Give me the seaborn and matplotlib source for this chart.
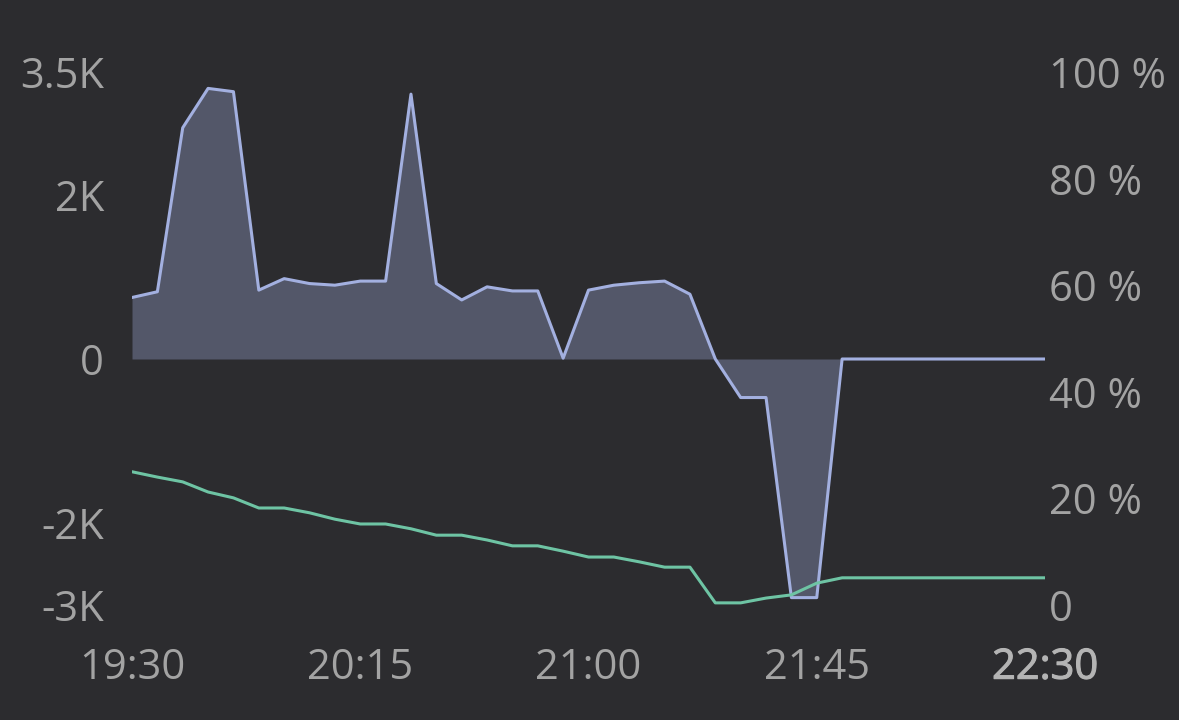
import pandas as pd
import matplotlib
matplotlib.use("Agg")
import matplotlib.pyplot as plt
import matplotlib.dates as mdates
import matplotlib.patheffects as pe
import seaborn as sns

# data, 5 minute steps from 19:30 to 22:30
times = pd.date_range("2024-01-01 19:30", "2024-01-01 22:30", freq="5min")

balance = [750, 820, 2820, 3300, 3260, 840, 980, 920, 900, 950,
           950, 3230, 920, 720, 880, 830, 830, 10, 840, 900,
           930, 950, 790, 0, -470, -470, -2910, -2910, 0, 0,
           0, 0, 0, 0, 0, 0, 0]

percent = [25.0, 24.0, 23.1, 21.2, 20.1, 18.2, 18.2, 17.3, 16.1, 15.2,
           15.2, 14.3, 13.1, 13.1, 12.2, 11.1, 11.1, 10.1, 9.0, 9.0,
           8.1, 7.1, 7.1, 0.4, 0.4, 1.3, 1.9, 4.1, 5.1, 5.1,
           5.1, 5.1, 5.1, 5.1, 5.1, 5.1, 5.1]

left_ticks = [3500, 2000, 0, -2000, -3000]
left_labels = ["3.5K", "2K", "0", "-2K", "-3K"]
right_ticks = [0, 20, 40, 60, 80, 100]
right_labels = ["0", "20 %", "40 %", "60 %", "80 %", "100 %"]

df = pd.DataFrame({"time": times, "balance": balance, "percent": percent})

bg = "#2c2c2f"
txt = "#a3a3a3"
blue = "#a3b0e0"
green = "#6ec4a4"

sns.set_theme(style="dark", rc={"axes.facecolor": bg, "figure.facecolor": bg})
plt.rcParams["font.family"] = ["Open Sans", "DejaVu Sans"]

fig = plt.figure(figsize=(11.79, 7.2), dpi=100)
ax = fig.add_axes([132 / 1179, 1 - 605 / 720, (1045 - 132) / 1179, (605 - 72) / 720])
ax2 = ax.twinx()

ax.fill_between(df["time"], df["balance"], 0, color=blue, alpha=0.33, linewidth=0)
sns.lineplot(data=df, x="time", y="balance", ax=ax, color=blue, linewidth=2.2)
sns.lineplot(data=df, x="time", y="percent", ax=ax2, color=green, linewidth=2.2)

ax.set_ylim(-3000, 3500)
ax2.set_ylim(0, 100)
ax.set_xlim(times[0], times[-1])

ax.set_yticks(left_ticks)
ax.set_yticklabels(left_labels)
ax2.set_yticks(right_ticks)
ax2.set_yticklabels(right_labels)

xt = [times[0] + pd.Timedelta(minutes=45 * k) for k in range(5)]
ax.set_xticks(xt)
ax.xaxis.set_major_formatter(mdates.DateFormatter("%H:%M"))

for a in (ax, ax2):
    a.set_xlabel("")
    a.set_ylabel("")
    a.grid(False)
    for s in a.spines.values():
        s.set_visible(False)

ax.tick_params(axis="y", length=0, pad=20, labelsize=30, labelcolor=txt)
ax.tick_params(axis="x", length=0, pad=30, labelsize=30, labelcolor=txt)
ax2.tick_params(axis="y", length=0, pad=3, labelsize=30, labelcolor=txt)
ax2.patch.set_visible(False)

# last time label looks a bit heavier in the original
fig.canvas.draw()
last = ax.get_xticklabels()[-1]
last.set_color("#b4b4b4")
last.set_path_effects([pe.withStroke(linewidth=0.8, foreground="#b4b4b4")])

fig.savefig("out.png", dpi=100, facecolor=bg)
